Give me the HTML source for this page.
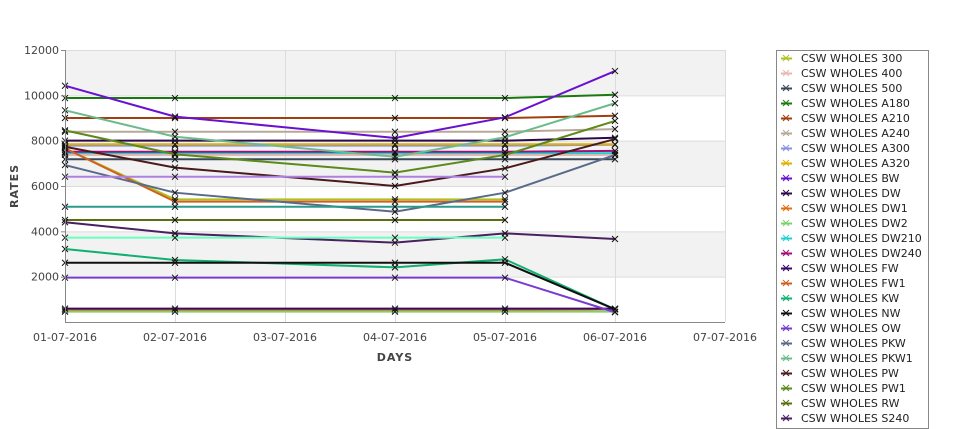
<!DOCTYPE html>
<html><head><meta charset="utf-8"><style>
body{margin:0;background:#fff;width:975px;height:429px;overflow:hidden;font-family:"DejaVu Sans","Liberation Sans",sans-serif}
svg{position:absolute;left:0;top:0}
</style></head><body>
<svg id="chart" width="975" height="429" viewBox="0 0 975 429" font-family="DejaVu Sans, Liberation Sans, sans-serif">
<g id="grid"></g>
<g id="series"></g>
<g id="axes"></g>
<text x="18" y="186" font-size="11" font-weight="bold" fill="#444" text-anchor="middle" transform="rotate(-90 18 186)" letter-spacing="1">RATES</text>
<text x="395" y="361" font-size="11" font-weight="bold" fill="#444" text-anchor="middle" letter-spacing="1">DAYS</text>
<rect x="776.5" y="50.5" width="152" height="378" fill="#fff" stroke="#888"/>
<g id="legend"></g>
</svg>
<script>
const categories=["01-07-2016","02-07-2016","03-07-2016","04-07-2016","05-07-2016","06-07-2016","07-07-2016"];
const yTicks=[2000,4000,6000,8000,10000,12000];
const seriesNames=["CSW WHOLES 300","CSW WHOLES 400","CSW WHOLES 500","CSW WHOLES A180","CSW WHOLES A210","CSW WHOLES A240","CSW WHOLES A300","CSW WHOLES A320","CSW WHOLES BW","CSW WHOLES DW","CSW WHOLES DW1","CSW WHOLES DW2","CSW WHOLES DW210","CSW WHOLES DW240","CSW WHOLES FW","CSW WHOLES FW1","CSW WHOLES KW","CSW WHOLES NW","CSW WHOLES OW","CSW WHOLES PKW","CSW WHOLES PKW1","CSW WHOLES PW","CSW WHOLES PW1","CSW WHOLES RW","CSW WHOLES S240","CSW WHOLES S300","CSW WHOLES S320","CSW WHOLES S400"];
const seriesColors=["#b0c020","#e8b8b0","#3a4a5a","#1a7a10","#a04010","#b8a898","#8890e0","#e0b000","#6a10d0","#2a0a4a","#e07010","#80d070","#20d0d0","#a0107a","#3a0a6a","#d06020","#10b070","#101010","#7a3ad0","#5a6a8a","#6dbb8c","#4a1a1a","#5a8a1a","#5a7010","#4a2060","#2a9a8a","#6affc0","#b080e0"];
const s0=[7660,5410,null,5410,5410,null,null];
const s1=[7370,7370,null,7370,7370,7370,null];
const s2=[7180,7180,null,7180,7180,7180,null];
const s3=[9880,9880,null,9880,9880,10027,null];
const s4=[9000,9000,null,9000,9000,9100,null];
const s5=[8395,8395,null,8395,8395,8510,null];
const s6=[7780,7780,null,7780,7780,7820,null];
const s7=[7840,7840,null,7840,7840,7840,null];
const s8=[10424,9060,null,8117,9030,11070,null];
const s9=[8000,8000,null,8000,8000,8130,null];
const s10=[515,515,null,515,515,560,null];
const s11=[455,455,null,455,455,455,null];
const s12=[7450,7450,null,7450,7450,7450,null];
const s13=[7510,7510,null,7510,7510,7550,null];
const s14=[590,590,null,590,590,590,null];
const s15=[7660,5310,null,5310,5310,null,null];
const s16=[3220,2735,null,2410,2765,560,null];
const s17=[2615,2615,null,2615,2615,560,null];
const s18=[1955,1955,null,1955,1955,430,null];
const s19=[6925,5705,null,4865,5705,7370,null];
const s20=[9340,8175,null,7290,8150,9650,null];
const s21=[7730,6810,null,6000,6780,8070,null];
const s22=[8455,7400,null,6590,7370,8870,null];
const s23=[4500,4500,null,4500,4500,null,null];
const s24=[4400,3910,null,3500,3910,3660,null];
const s25=[5085,5085,null,5085,5085,null,null];
const s26=[3720,3720,null,3720,3720,null,null];
const s27=[6410,6410,null,6410,6410,null,null];
const seriesValues=[s0,s1,s2,s3,s4,s5,s6,s7,s8,s9,s10,s11,s12,s13,s14,s15,s16,s17,s18,s19,s20,s21,s22,s23,s24,s25,s26,s27];
const NS="http://www.w3.org/2000/svg";
const X0=65,X1=725,Y0=322,Y1=50,YMAX=12000;
function xs(i){return X0+i*(X1-X0)/(categories.length-1);}
function ys(v){return Y0-v*(Y0-Y1)/YMAX;}
function mk(t,a){const e=document.createElementNS(NS,t);for(const k in a)e.setAttribute(k,a[k]);return e;}
const grid=document.getElementById('grid'),axes=document.getElementById('axes'),ser=document.getElementById('series'),leg=document.getElementById('legend');
for(let k=0;k<yTicks.length;k++){
  const v=yTicks[k];
  if(k%2===0){const r=mk('rect',{x:X0,y:ys(v+2000),width:X1-X0,height:ys(v)-ys(v+2000),fill:'#f2f2f2'});
  
  grid.appendChild(r);}
  const l=mk('line',{x1:X0,x2:X1,y1:ys(v)+0.5,y2:ys(v)+0.5,stroke:'#dcdcdc'});
  
  grid.appendChild(l);
  const tk=mk('line',{x1:X0-4,x2:X0,y1:ys(v)+0.5,y2:ys(v)+0.5,stroke:'#888'});
  
  axes.appendChild(tk);
  const t=mk('text',{x:X0-6,y:ys(v)+4,'font-size':11,'text-anchor':'end',fill:'#444'});t.textContent=v;
  
  axes.appendChild(t);
}
categories.forEach((c,i)=>{
  const l=mk('line',{x1:xs(i)+0.5,x2:xs(i)+0.5,y1:Y1,y2:Y0,stroke:'#dcdcdc'});
  
  grid.appendChild(l);
  const t=mk('text',{x:xs(i),y:Y0+19,'font-size':11,'text-anchor':'middle',fill:'#444'});t.textContent=c;
  
  axes.appendChild(t);
});
const ax=mk('path',{d:`M${X0+0.5},${Y1} V${Y0+0.5} H${X1}`,fill:'none',stroke:'#888'});

axes.appendChild(ax);
seriesValues.forEach((vals,si)=>{
  const g=mk('g',{});
  
  
  let d='';vals.forEach((v,i)=>{if(v==null)return;d+=(d?'L':'M')+xs(i)+','+ys(v);});
  const p=mk('path',{d:d,fill:'none',stroke:seriesColors[si],'stroke-width':2});
  
  g.appendChild(p);
  vals.forEach((v,i)=>{if(v==null)return;const x=xs(i),y=ys(v);
    const m=mk('path',{d:`M${x-3},${y-3}L${x+3},${y+3}M${x-3},${y+3}L${x+3},${y-3}`,stroke:'#111','stroke-width':1});
    
    g.appendChild(m);});
  ser.appendChild(g);
});
seriesNames.forEach((n,i)=>{
  const y=58+i*15;if(y>424)return;const g=mk('g',{});
  
  
  g.appendChild(mk('line',{x1:781,x2:792,y1:y+0.5,y2:y+0.5,stroke:seriesColors[i],'stroke-width':2}));
  g.appendChild(mk('path',{d:`M${783},${y-3}L${789},${y+3}M${783},${y+3}L${789},${y-3}`,stroke:seriesColors[i],'stroke-width':1}));
  const t=mk('text',{x:801,y:y+4,'font-size':11,fill:'#222'});t.textContent=n;g.appendChild(t);
  leg.appendChild(g);
});
</script>
</body></html>
